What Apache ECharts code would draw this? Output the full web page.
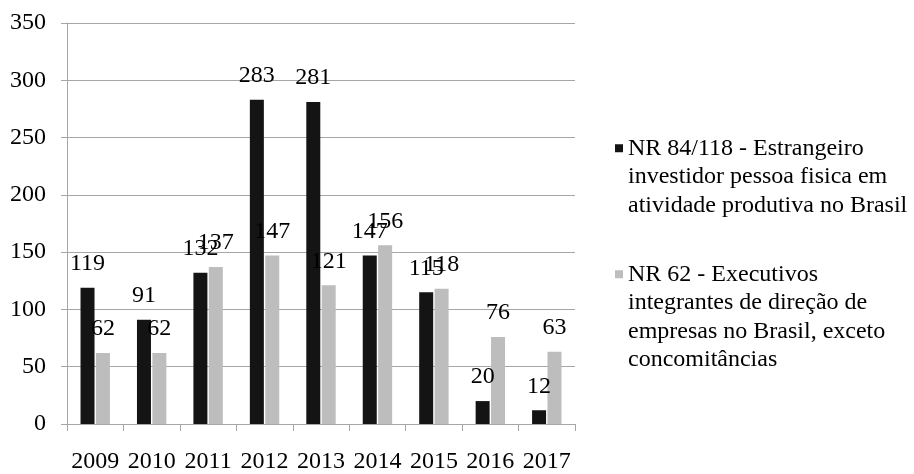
<!DOCTYPE html>
<html>
<head>
<meta charset="utf-8">
<script src="https://cdn.jsdelivr.net/npm/echarts@6/dist/echarts.min.js"></script>
<style>
  html, body { margin: 0; padding: 0; background: #fff; }
  #chart { width: 914px; height: 474px; }
</style>
</head>
<body>
<div id="chart"></div>
<script>
// Years on the category axis
const years = ['2009', '2010', '2011', '2012', '2013', '2014', '2015', '2016', '2017'];

// Series names (legend text, with manual line breaks)
const nameInvestor = 'NR 84/118 - Estrangeiro\ninvestidor pessoa fisica em\natividade produtiva no Brasil';
const nameExecutives = 'NR 62 - Executivos\nintegrantes de direção de\nempresas no Brasil, exceto\nconcomitâncias';

// Values per year
const investorValues = [119, 91, 132, 283, 281, 147, 115, 20, 12];
const executiveValues = [62, 62, 137, 147, 121, 156, 118, 76, 63];

// Value axis range
const yMin = 0;
const yMax = 350;
const yStep = 50;

const FONT = '"Liberation Serif", "Times New Roman", serif';
const AXIS_GRAY = '#a6a6a6';
const LINE_H = 28.5;

// Legend icon: a small square near the top of a tall transparent box,
// so the square lines up with the first line of a multi-line label.
function legendIcon(lines) {
  const h = lines * LINE_H;
  const c = LINE_H / 2;
  return 'path://M0,' + (c - 4) + 'h8v8h-8z' +
         'M0,0h0.01v0.01h-0.01z' +
         'M0,' + h + 'h0.01v-0.01h-0.01z';
}

const chart = echarts.init(document.getElementById('chart'), null, { renderer: 'canvas' });

const labelStyle = {
  show: true,
  position: 'top',
  distance: 12,
  color: '#000',
  fontFamily: FONT,
  fontSize: 24
};

chart.setOption({
  animation: false,
  backgroundColor: '#fff',
  grid: { left: 67, right: 339, top: 23, bottom: 47 },
  legend: [
    {
      data: [nameInvestor],
      orient: 'vertical',
      left: 615,
      top: 134,
      padding: 0,
      itemWidth: 8,
      itemHeight: 3 * LINE_H,
      icon: legendIcon(3),
      textStyle: { fontFamily: FONT, fontSize: 24, color: '#000', lineHeight: LINE_H }
    },
    {
      data: [nameExecutives],
      orient: 'vertical',
      left: 615,
      top: 260,
      padding: 0,
      itemWidth: 8,
      itemHeight: 4 * LINE_H,
      icon: legendIcon(4),
      textStyle: { fontFamily: FONT, fontSize: 24, color: '#000', lineHeight: LINE_H }
    }
  ],
  xAxis: {
    type: 'category',
    data: years,
    boundaryGap: true,
    axisLine: { show: true, lineStyle: { color: AXIS_GRAY, width: 1 } },
    axisTick: { show: true, length: 7, lineStyle: { color: AXIS_GRAY } },
    axisLabel: { color: '#000', fontFamily: FONT, fontSize: 24, margin: 26, interval: 0 },
    splitLine: { show: false }
  },
  yAxis: {
    type: 'value',
    min: yMin,
    max: yMax,
    interval: yStep,
    axisLine: { show: true, lineStyle: { color: AXIS_GRAY, width: 1 } },
    axisTick: { show: true, length: 6, lineStyle: { color: AXIS_GRAY } },
    axisLabel: { color: '#000', fontFamily: FONT, fontSize: 24, margin: 21 },
    splitLine: { show: true, lineStyle: { color: AXIS_GRAY, width: 1 } }
  },
  series: [
    {
      name: nameInvestor,
      type: 'bar',
      data: investorValues,
      barWidth: 14,
      barGap: '10%',
      itemStyle: { color: '#141414' },
      label: labelStyle
    },
    {
      name: nameExecutives,
      type: 'bar',
      data: executiveValues,
      barWidth: 14,
      barGap: '10%',
      itemStyle: { color: '#bdbdbd' },
      label: labelStyle
    }
  ]
});
</script>
</body>
</html>
